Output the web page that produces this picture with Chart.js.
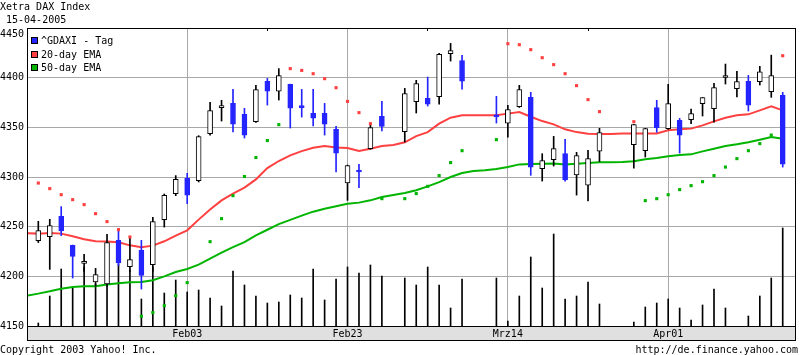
<!DOCTYPE html>
<html><head><meta charset="utf-8">
<script src="https://cdn.jsdelivr.net/npm/chart.js@4.4.1/dist/chart.umd.min.js"></script>
<style>html,body{margin:0;padding:0;background:#fff;overflow:hidden}#wrap{width:800px;height:355px}</style>
</head><body><div id="wrap"><canvas id="c" width="800" height="355"></canvas></div>
<script>
// ---------- data ----------
const chartTitle = 'Xetra DAX Index';
const chartDate = '15-04-2005';
const copyrightText = 'Copyright 2003 Yahoo! Inc.';
const sourceText = 'http://de.finance.yahoo.com';
const legendLabels = ['^GDAXI - Tag', '20-day EMA', '50-day EMA'];

const xTickSlots = [13, 27, 41, 55];
const xTickLabels = ['Feb03', 'Feb23', 'Mrz14', 'Apr01'];
const xMinorSlots = [20, 34, 48];
const yTicks = [4150, 4200, 4250, 4300, 4350, 4400, 4450];

// daily candles, slot 0 .. 65 (null = no trading data)
const open = [
 4236, 4240, 4260.4, 4231.2, 4213, 4194.3, 4192.3, 4236.3, 4209.8, 4226.2,
 4211.8, 4257.1, 4283.3, 4298.7, 4296.3, 4343.6, 4369.8, 4374.1, 4363.1, 4355.7,
 4396.3, 4386.5, 4393.3, 4371.4, 4364.1, 4364.1, 4348, 4294.1, 4305.8, 4328.5,
 4361, null, 4345.7, 4375.8, 4379.2, 4380.9, 4424.2, 4417.1, null, null,
 4361.5, 4354.3, 4370.8, 4380.2, 4308.4, 4317.5, 4323.5, 4302, 4291.9, 4326.1,
 null, null, 4332.6, 4326.5, 4369.8, 4348.7, 4357, 4357.7, 4373.8, 4368.8,
 4400.2, 4388.9, 4396.3, 4396, 4385.9, 4382.2];
const high = [
 4255.4, 4257.4, 4270.2, 4231.5, 4222.2, 4208, 4242.3, 4248, 4239.6, 4236.3,
 4259.4, 4282.9, 4301.4, 4303.7, 4341.6, 4375.1, 4377.2, 4388.2, 4369.1, 4392.3,
 4399.3, 4409.1, 4393.5, 4388.2, 4388.2, 4374.1, 4351, 4312, 4312.7, 4353.7,
 4376.1, null, 4389.2, 4397.3, 4400.6, 4424.5, 4434.5, 4422.4, null, null,
 4381.2, 4372.1, 4392.3, 4385.2, 4323.5, 4340.9, 4337.9, 4324.8, 4326.8, 4349,
 null, null, 4353, 4349, 4377.2, 4393.3, 4359, 4368.4, 4380, 4394.3,
 4413.7, 4406.3, 4402.3, 4411.4, 4422.7, 4385.2];
const low = [
 4234, 4207, 4241, 4198.3, 4205, 4190, 4190, 4211, 4205, 4187.2,
 4205, 4249.6, 4281.2, 4273.2, 4295, 4342, 4356.3, 4345.3, 4339.2, 4355,
 4372.4, 4377.5, 4349.3, 4360.3, 4351.3, 4342.2, 4305, 4276.5, 4289.3, 4328,
 4346.3, null, 4335.2, 4364.4, 4371.4, 4373.4, 4416.7, 4388.5, null, null,
 4354.3, 4340.2, 4370, 4301.7, 4295.9, 4311, 4295.9, 4281.8, 4275.8, 4315.5,
 null, null, 4309, 4320.1, 4345, 4348, 4324.1, 4353.7, 4361.4, 4355.3,
 4393.6, 4380.5, 4366.4, 4392.6, 4380.2, 4310];
const close = [
 4246, 4251, 4245.6, 4220.1, 4214, 4201.7, 4234, 4213.4, 4216.8, 4201,
 4255.1, 4281.5, 4297.6, 4281.8, 4340.6, 4366.8, 4371.8, 4353.3, 4342.2, 4387.9,
 4386.5, 4402, 4369.4, 4369.8, 4359.3, 4353.3, 4324.1, 4311.4, 4305, 4349.7,
 4351, null, 4383.9, 4394, 4373.4, 4423.4, 4427.2, 4396.6, null, null,
 4360.5, 4367.8, 4387.9, 4310, 4316.5, 4328.5, 4297, 4321.5, 4318.5, 4344.6,
 null, null, 4352.7, 4348.7, 4349.7, 4373.8, 4342.2, 4363.8, 4379.9, 4389.9,
 4401, 4396, 4372.4, 4406, 4402, 4313];
// volume (relative units), slot 0 .. 65
const volume = [
 4, 31, 58, 39, 60, 43, 41, 63, 57, 28,
 60, 34, 47, 35, 37, 29, 21, 56, 42, 31,
 24, 25, 32, 29, 58, 27, 48, 60, 54, 62,
 51, null, 49, 42, 60, 42, 19, 48, null, null,
 49, 6, 31, 70, 39, 93, 28, 31, 45, 23,
 null, null, 5, 20, 24, 28, 19, 7, 22, 38,
 19, 0, 11, 31, 49, 99];

// indicator series, slot -1 .. 65
const ema20 = [4243.3,
 4243, 4243.6, 4243, 4240.3, 4237.3, 4235.3, 4235, 4234.2, 4231.2, 4229.2,
 4230.9, 4235.3, 4241, 4246.3, 4257.1, 4267.2, 4276.5, 4283.3, 4289.3, 4297.6,
 4309, 4316.1, 4321.8, 4326.1, 4329.5, 4331.2, 4329.8, 4329.1, 4326.1, 4328.5,
 4331.2, 4332.2, 4334.9, 4341.2, 4345.2, 4353.7, 4359.7, 4362.1, 4362.1, 4362.1,
 4362.1, 4363.8, 4365.4, 4360.7, 4356.3, 4353, 4348, 4345.2, 4343.6, 4343.2,
 4343.2, 4343.9, 4343.9, 4343.9, 4343.9, 4347, 4348, 4348.7, 4352, 4356,
 4359.7, 4362.1, 4363.1, 4367.1, 4371.1, 4367.1];
const ema50 = [4180.6,
 4182.6, 4184.9, 4187.6, 4189.3, 4190, 4190, 4191.7, 4193, 4194, 4194.3,
 4196, 4200, 4204.3, 4207.4, 4211.8, 4217.8, 4223.9, 4229.5, 4234.5, 4241.3,
 4246.9, 4252.6, 4256.8, 4261.1, 4265.1, 4268, 4270.5, 4273.1, 4274.2, 4276.5,
 4279.8, 4281.8, 4283.9, 4286.6, 4290.6, 4294.9, 4300, 4304, 4306, 4306.7,
 4308, 4310, 4312.7, 4313.2, 4313.4, 4313.7, 4312.7, 4313.4, 4314, 4314.8,
 4314.8, 4315.1, 4315.8, 4317.8, 4319.1, 4320.8, 4322.1, 4322.8, 4325.8, 4328.5,
 4331.2, 4332.9, 4334.9, 4337.6, 4340.2, 4338.6];
const sarAbove = [null,
 4293.9, 4288.3, 4282.2, 4277.2, 4272.2, 4263.1, 4255.1, 4247, 4239.6, null,
 null, null, null, null, null, null, null, null, null, null,
 null, null, 4409.1, 4407.3, 4404, 4399, 4389.9, 4376.1, 4364.8, 4353.7,
 null, null, null, null, null, null, null, null, null, null,
 null, 4434.2, 4433.2, 4428.2, 4420.1, 4413.1, 4404, 4392, 4377.9, 4365.8,
 null, null, 4355.7, null, null, null, null, null, null, null,
 null, null, null, null, null, 4422.1];
const sarBelow = [null,
 null, null, null, null, null, null, null, null, null, 4159.8,
 4163.5, 4170.5, 4180.6, 4193.7, null, 4234.9, 4258.1, 4281.2, 4300.5, 4319.6,
 4336.7, 4352.7, null, null, null, null, null, null, null, null,
 4278.2, null, 4278.2, 4283.3, 4290.6, 4301.4, 4314.5, 4326.5, null, null,
 4337.6, null, null, null, null, null, null, null, null, null,
 null, null, null, 4276.2, 4278.2, 4282.2, 4287.3, 4291.3, 4295.3, 4301.4,
 4310, 4318.5, 4326.5, 4333.6, 4342.2, null];
const candleStart = 0;
const lineStart = -1;

// ---------- styles ----------
const FONT = '"DejaVu Sans Mono", "Liberation Mono", monospace';
const BLUE = '#2424ff', RED = '#ff4040', GREEN = '#00b400', GRID = '#a8a8a8';
const legendColors = [BLUE, RED, GREEN];

function pts(arr, start) {
  const out = [];
  arr.forEach((v, k) => { if (v != null) out.push({x: k + start, y: v}); });
  return out;
}
const candles = [];
open.forEach((o, k) => {
  if (o == null) return;
  candles.push({x: k + candleStart, o: o, h: high[k], l: low[k], c: close[k]});
});
const isUp = c => c.c >= c.o;

const decor = {
  id: 'decor',
  afterDraw(chart) {
    const ctx = chart.ctx, a = chart.chartArea, xb = chart.scales.x;
    ctx.save();
    ctx.strokeStyle = '#000';
    ctx.lineWidth = 1;
    ctx.strokeRect(a.left - 0.5, a.top + 0.5, a.right - a.left, a.bottom - a.top - 1);
    ctx.strokeRect(a.left - 0.5, a.bottom - 0.5, a.right - a.left, xb.bottom - a.bottom + 1);
    ctx.fillStyle = '#000';
    ctx.font = '10px ' + FONT;
    ctx.textBaseline = 'alphabetic';
    ctx.textAlign = 'left';
    ctx.fillText(chartTitle, 0, 10);
    ctx.fillText(' ' + chartDate, 0, 23);
    ctx.fillText(copyrightText, 0, 353);
    ctx.textAlign = 'right';
    ctx.fillText(sourceText, 798, 353);
    // legend
    ctx.textAlign = 'left';
    ctx.textBaseline = 'middle';
    legendLabels.forEach((t, k) => {
      const top = Math.round(a.top + 9.3 + k * 13.35);
      ctx.fillStyle = legendColors[k];
      ctx.fillRect(a.left + 3.5, top + 0.5, 6, 6);
      ctx.strokeRect(a.left + 3.5, top + 0.5, 6, 6);
      ctx.fillStyle = '#000';
      ctx.fillText(t, a.left + 13, top + 4);
    });
    ctx.restore();
  }
};

const X_MIN = -0.9, X_MAX = 66.16;
const tickFont = {family: FONT, size: 10};

new Chart(document.getElementById('c'), {
  type: 'bar',
  data: {
    datasets: [
      {type: 'bar', label: 'Volume', data: pts(volume, candleStart).filter(p => p.y > 0),
       xAxisID: 'x', yAxisID: 'yv', backgroundColor: '#000', barThickness: 1, grouped: false, order: 10},
      {type: 'line', label: legendLabels[2], data: pts(ema50, lineStart), xAxisID: 'x', yAxisID: 'y',
       borderColor: GREEN, borderWidth: 2, pointRadius: 0, tension: 0, order: 8},
      {type: 'line', label: legendLabels[1], data: pts(ema20, lineStart), xAxisID: 'x', yAxisID: 'y',
       borderColor: RED, borderWidth: 2, pointRadius: 0, tension: 0, order: 7},
      {type: 'bar', label: 'wicks', data: candles.map(c => ({x: c.x, y: [c.l, c.h]})), xAxisID: 'x', yAxisID: 'y',
       backgroundColor: candles.map(c => isUp(c) ? '#000' : BLUE), barThickness: 1, grouped: false, order: 5},
      {type: 'bar', label: legendLabels[0], data: candles.map(c => ({x: c.x, y: [c.o, c.c]})), xAxisID: 'x', yAxisID: 'y',
       backgroundColor: candles.map(c => isUp(c) ? '#fff' : BLUE),
       borderColor: candles.map(c => isUp(c) ? '#000' : BLUE),
       borderWidth: 1, borderSkipped: false, barThickness: 5, minBarLength: 2, grouped: false, order: 4},
      {type: 'line', label: 'SAR high', data: pts(sarAbove, lineStart), xAxisID: 'x', yAxisID: 'y',
       showLine: false, pointStyle: 'rect', pointRadius: 2.2, pointBackgroundColor: RED, pointBorderWidth: 0, order: 3},
      {type: 'line', label: 'SAR low', data: pts(sarBelow, lineStart), xAxisID: 'x', yAxisID: 'y',
       showLine: false, pointStyle: 'rect', pointRadius: 2.2, pointBackgroundColor: GREEN, pointBorderWidth: 0, order: 3}
    ]
  },
  options: {
    responsive: false, animation: false, devicePixelRatio: 1,
    layout: {padding: {left: 0, right: 4, top: 28, bottom: 15}},
    plugins: {legend: {display: false}, tooltip: {enabled: false}},
    scales: {
      x: {type: 'linear', position: 'bottom', min: X_MIN, max: X_MAX, offset: false,
          afterBuildTicks: s => { s.ticks = xTickSlots.map(v => ({value: v})); },
          afterFit: s => { s.height = 13; },
          ticks: {autoSkip: false, maxRotation: 0, padding: 1, color: '#000', font: tickFont,
                  callback: v => { const i = xTickSlots.indexOf(v); return i >= 0 ? xTickLabels[i] : ''; }},
          grid: {color: GRID, lineWidth: 1, drawTicks: false, offset: false},
          border: {display: false},
          backgroundColor: '#e0e0e0'},
      xTop: {type: 'linear', position: 'top', min: X_MIN, max: X_MAX, offset: false,
          afterBuildTicks: s => { s.ticks = xMinorSlots.map(v => ({value: v})); },
          afterFit: s => { s.height = 0; },
          ticks: {display: false},
          grid: {drawOnChartArea: false, drawTicks: true, tickLength: -3, color: '#000', offset: false},
          border: {display: false}},
      y: {type: 'linear', position: 'left', min: 4149, max: 4450,
          afterBuildTicks: s => { s.ticks = yTicks.map(v => ({value: v})); },
          afterFit: s => { s.width = 28; },
          ticks: {padding: 4, color: '#000', font: tickFont,
                  callback: v => v === yTicks[yTicks.length - 1] ? ['', String(v)] : String(v)},
          grid: {color: GRID, lineWidth: 1, drawTicks: false},
          border: {display: false}},
      yv: {type: 'linear', display: false, min: 0, max: 299}
    }
  },
  plugins: [decor]
});
</script>
</body></html>
